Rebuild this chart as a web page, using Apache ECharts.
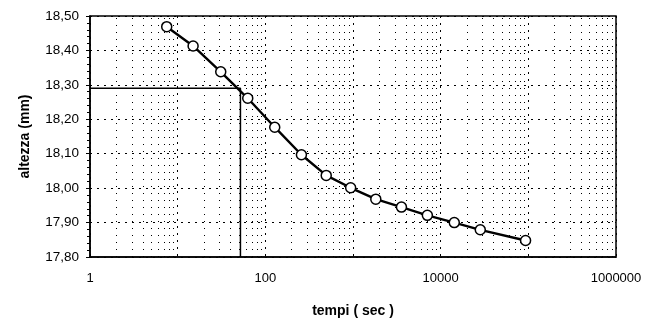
<!DOCTYPE html>
<html>
<head>
<meta charset="utf-8">
<script src="https://cdn.jsdelivr.net/npm/echarts@6/dist/echarts.min.js"></script>
<style>
  html, body { margin: 0; padding: 0; background: #fff; }
  #chart { width: 646px; height: 321px; }
</style>
</head>
<body>
<div id="chart"></div>
<script>
// Consolidation readings: time (s) and sample height (mm)
const tempi = [7.5, 15, 31, 63, 128, 258, 495, 940, 1820, 3570, 7050, 14300, 28300, 93000];
const altezze = [18.469, 18.413, 18.338, 18.261, 18.177, 18.097, 18.037, 18.001, 17.968, 17.945, 17.921, 17.900, 17.879, 17.848];

const refAltezza = 18.29;
const refTempo = 52;

// Axis ranges
const xMin = 1, xMax = 1000000;
const yMin = 17.8, yMax = 18.5, yStep = 0.1;

// Minor log grid lines at 2..9 of each decade
const minorLines = [];
for (let d = 1; d < xMax; d *= 10) {
  for (let k = 2; k <= 9; k++) minorLines.push({ xAxis: k * d });
}

const font = 'Liberation Sans, Arial, sans-serif';

const chart = echarts.init(document.getElementById('chart'));
chart.setOption({
  animation: false,
  backgroundColor: '#fff',
  grid: {
    left: 90, right: 30, top: 16, bottom: 64,
    outerBoundsMode: 'none',
    show: true, borderColor: '#000', borderWidth: 1.5
  },
  xAxis: {
    type: 'log',
    logBase: 10,
    min: xMin,
    max: xMax,
    interval: 1,
    name: 'tempi ( sec )',
    nameLocation: 'middle',
    nameGap: 47,
    nameTextStyle: { fontFamily: font, fontSize: 14, fontWeight: 'bold', color: '#000' },
    axisLine: { lineStyle: { color: '#000', width: 1.5 } },
    axisTick: { show: false },
    axisLabel: {
      margin: 15,
      fontFamily: font,
      fontSize: 13,
      color: '#000',
      formatter: function (v) {
        const e = Math.round(Math.log10(v));
        return e % 2 === 0 ? String(Math.round(v)) : '';
      }
    },
    splitLine: { show: true, lineStyle: { color: '#000', width: 1, type: [2, 5] } }
  },
  yAxis: {
    type: 'value',
    min: yMin,
    max: yMax,
    interval: yStep,
    name: 'altezza (mm)',
    nameLocation: 'middle',
    nameGap: 58,
    nameRotate: 90,
    nameTextStyle: { fontFamily: font, fontSize: 14, fontWeight: 'bold', color: '#000' },
    axisLine: { show: true, lineStyle: { color: '#000', width: 1.5 } },
    axisTick: { show: true, inside: false, length: 4, lineStyle: { color: '#000' } },
    minorTick: { show: true, splitNumber: 5, length: 3, lineStyle: { color: '#000' } },
    axisLabel: {
      margin: 11,
      fontFamily: font,
      fontSize: 13.5,
      color: '#000',
      formatter: function (v) { return v.toFixed(2).replace('.', ','); }
    },
    splitLine: { show: true, lineStyle: { color: '#000', width: 1, type: [2, 5] } }
  },
  series: [
    {
      type: 'line',
      data: [[xMin, refAltezza], [refTempo, refAltezza], [refTempo, yMin]],
      symbol: 'none',
      lineStyle: { color: '#000', width: 1.5 },
      silent: true,
      z: 3,
      markLine: {
        silent: true,
        symbol: 'none',
        label: { show: false },
        lineStyle: { color: '#000', width: 1, type: [1, 6] },
        data: minorLines
      }
    },
    {
      type: 'line',
      data: tempi.map((t, i) => [t, altezze[i]]),
      symbol: 'circle',
      symbolSize: 10,
      itemStyle: { color: '#fff', borderColor: '#000', borderWidth: 1.5 },
      lineStyle: { color: '#000', width: 2.4 },
      z: 5
    }
  ]
});
</script>
</body>
</html>
